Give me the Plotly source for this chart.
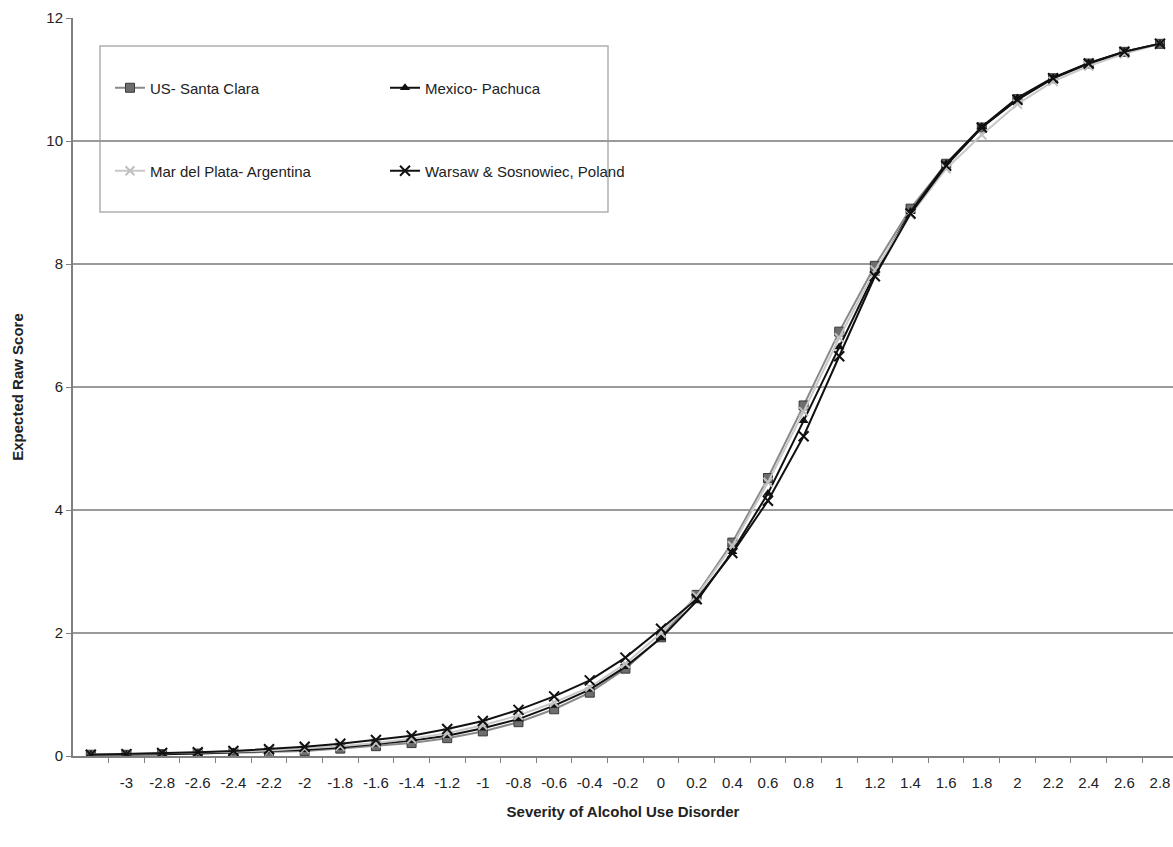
import plotly.graph_objects as go

# Severity levels (theta) on the horizontal axis
severity = [-3.2, -3.0, -2.8, -2.6, -2.4, -2.2, -2.0, -1.8, -1.6, -1.4, -1.2,
            -1.0, -0.8, -0.6, -0.4, -0.2, 0.0, 0.2, 0.4, 0.6, 0.8,
            1.0, 1.2, 1.4, 1.6, 1.8, 2.0, 2.2, 2.4, 2.6, 2.8]
tick_labels = ["", "-3", "-2.8", "-2.6", "-2.4", "-2.2", "-2", "-1.8", "-1.6", "-1.4", "-1.2",
               "-1", "-0.8", "-0.6", "-0.4", "-0.2", "0", "0.2", "0.4", "0.6", "0.8",
               "1", "1.2", "1.4", "1.6", "1.8", "2", "2.2", "2.4", "2.6", "2.8"]

# Expected raw score per site
us_santa_clara = [0.02, 0.02, 0.03, 0.04, 0.05, 0.06, 0.08, 0.12, 0.16, 0.21, 0.29,
                  0.40, 0.55, 0.76, 1.03, 1.42, 1.93, 2.62, 3.47, 4.52, 5.70,
                  6.90, 7.97, 8.90, 9.63, 10.22, 10.68, 11.02, 11.26, 11.45, 11.58]
mexico_pachuca = [0.02, 0.02, 0.03, 0.04, 0.06, 0.08, 0.10, 0.14, 0.19, 0.25, 0.33,
                  0.45, 0.60, 0.82, 1.08, 1.45, 1.92, 2.52, 3.32, 4.27, 5.45,
                  6.65, 7.85, 8.85, 9.63, 10.23, 10.70, 11.03, 11.27, 11.45, 11.58]
mar_del_plata = [0.02, 0.03, 0.04, 0.05, 0.07, 0.09, 0.12, 0.16, 0.21, 0.28, 0.37,
                 0.50, 0.66, 0.87, 1.12, 1.50, 2.00, 2.60, 3.42, 4.45, 5.60,
                 6.80, 7.90, 8.80, 9.55, 10.10, 10.60, 10.97, 11.22, 11.42, 11.58]
warsaw_poland = [0.02, 0.03, 0.05, 0.06, 0.08, 0.11, 0.15, 0.20, 0.26, 0.33, 0.44,
                 0.57, 0.75, 0.97, 1.23, 1.60, 2.07, 2.55, 3.30, 4.15, 5.20,
                 6.50, 7.80, 8.82, 9.60, 10.22, 10.67, 11.02, 11.26, 11.45, 11.58]

FONT = "Liberation Sans, Arial, sans-serif"
W, H = 1173, 847
ML, MR, MT, MB = 73, 0, 18, 91
PW, PH = W - ML - MR, H - MT - MB


def px_to_paper(x, y):
    return (x - ML) / PW, 1 - (y - MT) / PH


fig = go.Figure()

fig.add_trace(go.Scatter(
    x=severity, y=us_santa_clara, name="US- Santa Clara", mode="lines+markers",
    line=dict(color="#8a8a8a", width=2),
    marker=dict(symbol="square", size=9, color="#6e6e6e", line=dict(color="#3a3a3a", width=1)),
    legend="legend"))
fig.add_trace(go.Scatter(
    x=severity, y=mexico_pachuca, name="Mexico- Pachuca", mode="lines+markers",
    line=dict(color="#111111", width=2),
    marker=dict(symbol="triangle-up", size=9, color="#111111"),
    legend="legend"))
fig.add_trace(go.Scatter(
    x=severity, y=mar_del_plata, name="Mar del Plata- Argentina", mode="lines+markers",
    line=dict(color="#c8c8c8", width=2),
    marker=dict(symbol="x-thin-open", size=9, color="#c0c0c0", line=dict(color="#c0c0c0", width=2)),
    legend="legend2"))
fig.add_trace(go.Scatter(
    x=severity, y=warsaw_poland, name="Warsaw & Sosnowiec, Poland", mode="lines+markers",
    line=dict(color="#111111", width=2),
    marker=dict(symbol="x-thin-open", size=10, color="#111111", line=dict(color="#111111", width=2)),
    legend="legend2"))

# Legend frame
x0, y0 = px_to_paper(100, 46)
x1, y1 = px_to_paper(608, 212)
fig.add_shape(type="rect", xref="paper", yref="paper", x0=x0, y0=y1, x1=x1, y1=y0,
              line=dict(color="#b0b0b0", width=1.5), fillcolor="white", layer="between")

lx, ly1 = px_to_paper(110, 88)
_, ly2 = px_to_paper(110, 171)
legend_common = dict(orientation="h", xanchor="left", yanchor="middle",
                     bgcolor="rgba(0,0,0,0)", borderwidth=0,
                     font=dict(family=FONT, size=15, color="#222"),
                     entrywidth=230, entrywidthmode="pixels", traceorder="normal")

mids = [round(-3.1 + 0.2 * k, 2) for k in range(31)]

fig.update_layout(
    width=W, height=H,
    margin=dict(l=ML, r=MR, t=MT, b=MB),
    paper_bgcolor="white", plot_bgcolor="white",
    font=dict(family=FONT, size=15, color="#222"),
    legend=dict(x=lx, y=ly1, **legend_common),
    legend2=dict(x=lx, y=ly2, **legend_common),
    xaxis=dict(
        range=[-3.3, 2.873],
        tickmode="array", tickvals=severity, ticktext=tick_labels,
        ticks="outside", ticklen=12, tickcolor="rgba(0,0,0,0)",
        tickfont=dict(family=FONT, size=15, color="#222"),
        minor=dict(tickmode="array", tickvals=mids, ticks="outside", ticklen=5,
                   tickcolor="#808080", tickwidth=1, showgrid=False),
        showgrid=False, zeroline=False,
        showline=True, linecolor="#808080", linewidth=2,
        title=dict(text="<b>Severity of Alcohol Use Disorder</b>",
                   font=dict(family=FONT, size=15, color="#222"), standoff=16),
    ),
    yaxis=dict(
        range=[0, 12], tickvals=[0, 2, 4, 6, 8, 10, 12],
        ticks="outside", ticklen=5, tickcolor="#808080",
        tickfont=dict(family=FONT, size=15, color="#222"),
        showgrid=True, gridcolor="#9a9a9a", gridwidth=1.5,
        zeroline=False, showline=True, linecolor="#808080", linewidth=2,
        title=dict(text="<b>Expected Raw Score</b>",
                   font=dict(family=FONT, size=15, color="#222"), standoff=19),
    ),
)

fig.write_html("out.html")
